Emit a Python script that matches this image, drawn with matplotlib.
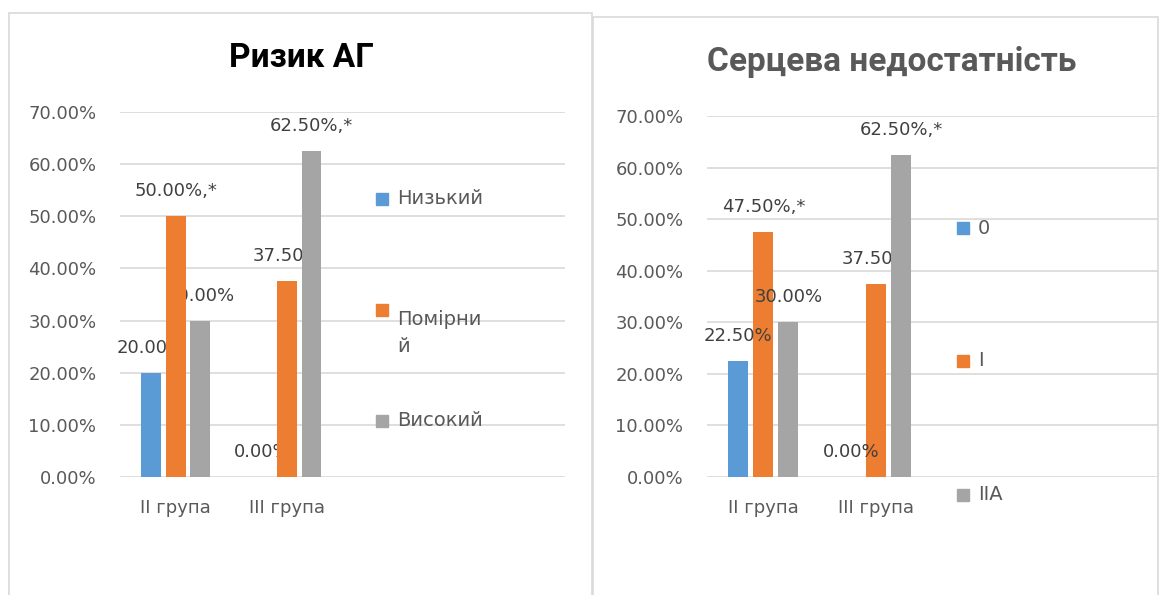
import numpy as np
import matplotlib.pyplot as plt
from matplotlib.patches import Rectangle
from matplotlib.ticker import FuncFormatter, MultipleLocator

# Données
groupes = ['II група', 'III група']

# Ризик АГ
risk_series = ['Низький', 'Помірни\nй', 'Високий']
risk_values = [[20.0, 0.0], [50.0, 37.5], [30.0, 62.5]]
risk_labels = [['20.00%', '0.00%'], ['50.00%,*', '37.50%'], ['30.00%', '62.50%,*']]

# Серцева недостатність
hf_series = ['0', 'I', 'IIA']
hf_values = [[22.5, 0.0], [47.5, 37.5], [30.0, 62.5]]
hf_labels = [['22.50%', '0.00%'], ['47.50%,*', '37.50%'], ['30.00%', '62.50%,*']]

couleurs = ['#5B9BD5', '#ED7D31', '#A5A5A5']

W, H = 1161, 595
fig = plt.figure(figsize=(W / 100, H / 100), dpi=100)

# cadres des deux graphiques
fig.patches.append(Rectangle((9 / W, -0.01), 583 / W, 1 - 13 / H + 0.01, transform=fig.transFigure,
                             fill=False, edgecolor='#D9D9D9', lw=1.2))
fig.patches.append(Rectangle((593 / W, -0.01), 565 / W, 1 - 17 / H + 0.01, transform=fig.transFigure,
                             fill=False, edgecolor='#D9D9D9', lw=1.2))


def tracer(rect, valeurs, etiquettes, z_labels):
    ax = fig.add_axes(rect)
    x = np.arange(len(groupes))
    decal = [-0.222, 0.0, 0.222]
    z_bars = [2, 3, 5]
    for i in range(3):
        barres = ax.bar(x + decal[i], valeurs[i], width=0.178, color=couleurs[i], zorder=z_bars[i])
        for b, txt in zip(barres, etiquettes[i]):
            ax.annotate(txt, (b.get_x() + b.get_width() / 2, b.get_height()),
                        xytext=(0, 18), textcoords='offset points', ha='center', va='center',
                        fontsize=13, color='#404040', zorder=z_labels)
    ax.set_xlim(-0.5, 3.5)
    ax.set_ylim(0, 70)
    ax.yaxis.set_major_locator(MultipleLocator(10))
    ax.yaxis.set_major_formatter(FuncFormatter(lambda v, p: '{:.2f}%'.format(v)))
    ax.grid(axis='y', color='#D9D9D9', lw=1.2, zorder=0)
    ax.set_axisbelow(True)
    ax.set_xticks(x)
    ax.set_xticklabels(groupes)
    ax.tick_params(axis='both', length=0, labelsize=13, labelcolor='#595959')
    ax.tick_params(axis='y', pad=17)
    ax.tick_params(axis='x', pad=16)
    for s in ax.spines.values():
        s.set_visible(False)
    return ax


ax1 = tracer([120 / W, 1 - 477 / H, 445 / W, 365 / H], risk_values, risk_labels, 1)
ax2 = tracer([707 / W, 1 - 477 / H, 451 / W, 361 / H], hf_values, hf_labels, 4)

# titres
fig.text(301 / W, 1 - 58 / H, 'Ризик АГ', ha='center', va='center', fontsize=24,
         fontweight='bold', color='black', family=['Roboto', 'DejaVu Sans'])
fig.text(892 / W, 1 - 62 / H, 'Серцева недостатність', ha='center', va='center', fontsize=24,
         fontweight='bold', color='#595959', family=['Roboto', 'DejaVu Sans'])

# légendes (positions comme dans Excel)
leg_gauche = [(376, 199), (376, 310), (376, 421)]
leg_droite = [(957, 228), (957, 361), (957, 495)]
for noms, pos in [(risk_series, leg_gauche), (hf_series, leg_droite)]:
    for nom, c, (px, py) in zip(noms, couleurs, pos):
        fig.patches.append(Rectangle((px / W, 1 - (py + 6) / H), 12 / W, 12 / H,
                                     transform=fig.transFigure, color=c))
        fig.text((px + 21) / W, 1 - py / H, nom, ha='left', va='top' if '\n' in nom else 'center',
                 fontsize=14, color='#595959', linespacing=1.55)

plt.savefig('out.png', dpi=100)
